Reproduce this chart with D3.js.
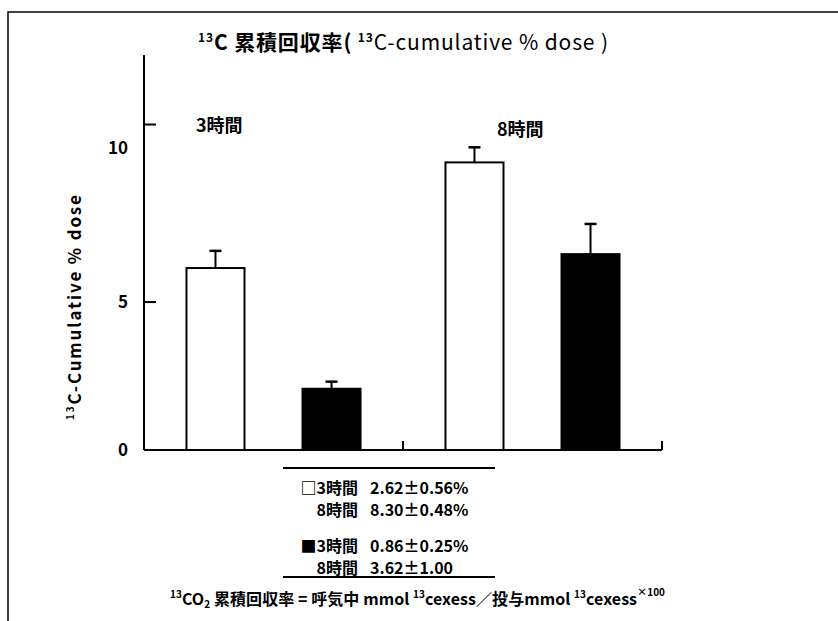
<!DOCTYPE html>
<html>
<head>
<meta charset="utf-8">
<script src="https://cdn.jsdelivr.net/npm/d3@7"></script>
<style>
  body { margin: 0; background: #fff; }
  text { font-family: "Noto Sans CJK JP", "Liberation Sans", sans-serif; font-weight: bold; fill: #000; }
</style>
</head>
<body>
<script>
const width  = 838
const height = 621

// data
const groups   = ["3時間", "8時間"]
const kinds    = ["open", "filled"]
const means    = [6.15, 2.07, 9.72, 6.62]
const errs     = [0.58, 0.24, 0.51, 1.02]
const yLabels  = [0, 5, 10]
const yMarks   = [5, 11]
const tableRows = [
  ["□3時間", "2.62±0.56%"],
  ["8時間", "8.30±0.48%"],
  ["■3時間", "0.86±0.25%"],
  ["8時間", "3.62±1.00"]
]

const bars = means.map((m, i) => ({
  group: groups[Math.floor(i / 2)],
  kind: kinds[i % 2],
  value: m,
  err: errs[i]
}))

const margin = {top: 55, right: 176, bottom: 171, left: 144}

const x0 = d3.scaleBand()
  .domain(groups)
  .range([margin.left, width - margin.right])
  .padding(0)

const x1 = d3.scaleBand()
  .domain(kinds)
  .range([0, x0.bandwidth()])
  .paddingInner(0.5)
  .paddingOuter(0.366)

const y = d3.scaleLinear()
  .domain([0, 13.35])
  .range([height - margin.bottom, margin.top])

const svg = d3.select("body").append("svg")
  .attr("width", width)
  .attr("height", height)

// frame (only top and left edges show)
svg.append("path")
  .attr("d", `M8,${height}V12H${width}`)
  .attr("fill", "none")
  .attr("stroke", "#000")
  .attr("stroke-width", 1.5)

// title
const title = svg.append("text")
  .attr("x", 198)
  .attr("y", 50)
  .attr("font-size", 21)
  .attr("textLength", 410)
  .attr("lengthAdjust", "spacing")
title.append("tspan").attr("font-size", 12).attr("dy", -8).text("13")
title.append("tspan").attr("dy", 8).text("C 累積回収率( ")
title.append("tspan").attr("font-size", 12).attr("dy", -8).text("13")
title.append("tspan").attr("dy", 8).attr("font-weight", "normal").text("C-cumulative % dose )")

// y axis
svg.append("line")
  .attr("x1", margin.left).attr("x2", margin.left)
  .attr("y1", y(13.35)).attr("y2", y(0))
  .attr("stroke", "#000").attr("stroke-width", 2)

svg.append("g")
  .selectAll("line")
  .data(yMarks)
  .join("line")
    .attr("x1", margin.left).attr("x2", margin.left + 12)
    .attr("y1", d => y(d)).attr("y2", d => y(d))
    .attr("stroke", "#000").attr("stroke-width", 2)

svg.append("g")
  .selectAll("text")
  .data(yLabels)
  .join("text")
    .attr("x", margin.left - 16)
    .attr("y", d => y(d))
    .attr("dy", d => d === 10 ? "0" : "0.35em")
    .attr("text-anchor", "end")
    .attr("font-size", 17)
    .text(d => d)

const ylab = svg.append("text")
  .attr("transform", `translate(81,${(195 + 420) / 2}) rotate(-90)`)
  .attr("text-anchor", "middle")
  .attr("font-size", 17)
  .attr("textLength", 225)
  .attr("lengthAdjust", "spacing")
ylab.append("tspan").attr("font-size", 10).attr("dy", -7).text("13")
ylab.append("tspan").attr("dy", 7).text("C-Cumulative % dose")

// baseline with group separators
svg.append("line")
  .attr("x1", margin.left).attr("x2", x0(groups[1]) + x0.bandwidth())
  .attr("y1", y(0)).attr("y2", y(0))
  .attr("stroke", "#000").attr("stroke-width", 2)

svg.append("g")
  .selectAll("line")
  .data(groups)
  .join("line")
    .attr("x1", d => x0(d) + x0.bandwidth())
    .attr("x2", d => x0(d) + x0.bandwidth())
    .attr("y1", y(0)).attr("y2", y(0) - 9)
    .attr("stroke", "#000").attr("stroke-width", 2)

// group labels
svg.append("g")
  .selectAll("text")
  .data(groups)
  .join("text")
    .attr("x", (d, i) => x0(d) + (i === 0 ? 52 : 94))
    .attr("y", (d, i) => i === 0 ? 126 : 130)
    .attr("dy", "0.35em")
    .attr("font-size", 18)
    .text(d => d)

// bars
const bar = svg.append("g")
  .selectAll("g")
  .data(bars)
  .join("g")
    .attr("transform", d => `translate(${x0(d.group) + x1(d.kind)},0)`)

bar.append("line")
  .attr("x1", x1.bandwidth() / 2).attr("x2", x1.bandwidth() / 2)
  .attr("y1", d => y(d.value)).attr("y2", d => y(d.value + d.err))
  .attr("stroke", "#000").attr("stroke-width", 2)

bar.append("line")
  .attr("x1", x1.bandwidth() / 2 - 6).attr("x2", x1.bandwidth() / 2 + 6)
  .attr("y1", d => y(d.value + d.err)).attr("y2", d => y(d.value + d.err))
  .attr("stroke", "#000").attr("stroke-width", 2.5)

bar.append("rect")
  .attr("x", 0)
  .attr("y", d => y(d.value))
  .attr("width", x1.bandwidth())
  .attr("height", d => y(0) - y(d.value))
  .attr("fill", d => d.kind === "open" ? "#fff" : "#000")
  .attr("stroke", "#000")
  .attr("stroke-width", 2)

// summary table
const tblLeft = 283, tblRight = 495
const rowY = [488, 510, 546, 568]

svg.append("g")
  .selectAll("line")
  .data([468, 577])
  .join("line")
    .attr("x1", tblLeft).attr("x2", tblRight)
    .attr("y1", d => d).attr("y2", d => d)
    .attr("stroke", "#000").attr("stroke-width", 2)

const row = svg.append("g")
  .selectAll("g")
  .data(tableRows)
  .join("g")
    .attr("transform", (d, i) => `translate(0,${rowY[i]})`)

row.append("text")
  .attr("x", 358)
  .attr("dy", "0.35em")
  .attr("text-anchor", "end")
  .attr("font-size", 16)
  .text(d => d[0])

row.append("text")
  .attr("x", 370)
  .attr("dy", "0.35em")
  .attr("font-size", 16)
  .text(d => d[1])

// formula footer
const foot = svg.append("text")
  .attr("x", 170)
  .attr("y", 605)
  .attr("font-size", 16)
  .attr("textLength", 495)
  .attr("lengthAdjust", "spacing")
foot.append("tspan").attr("font-size", 10).attr("dy", -7).text("13")
foot.append("tspan").attr("dy", 7).text("CO")
foot.append("tspan").attr("font-size", 10).attr("dy", 3).text("2")
foot.append("tspan").attr("dy", -3).text(" 累積回収率 = 呼気中 mmol ")
foot.append("tspan").attr("font-size", 10).attr("dy", -7).text("13")
foot.append("tspan").attr("dy", 7).text("cexess／投与mmol ")
foot.append("tspan").attr("font-size", 10).attr("dy", -7).text("13")
foot.append("tspan").attr("dy", 7).text("cexess")
foot.append("tspan").attr("font-size", 10).attr("dy", -9).text("×100")
</script>
</body>
</html>
